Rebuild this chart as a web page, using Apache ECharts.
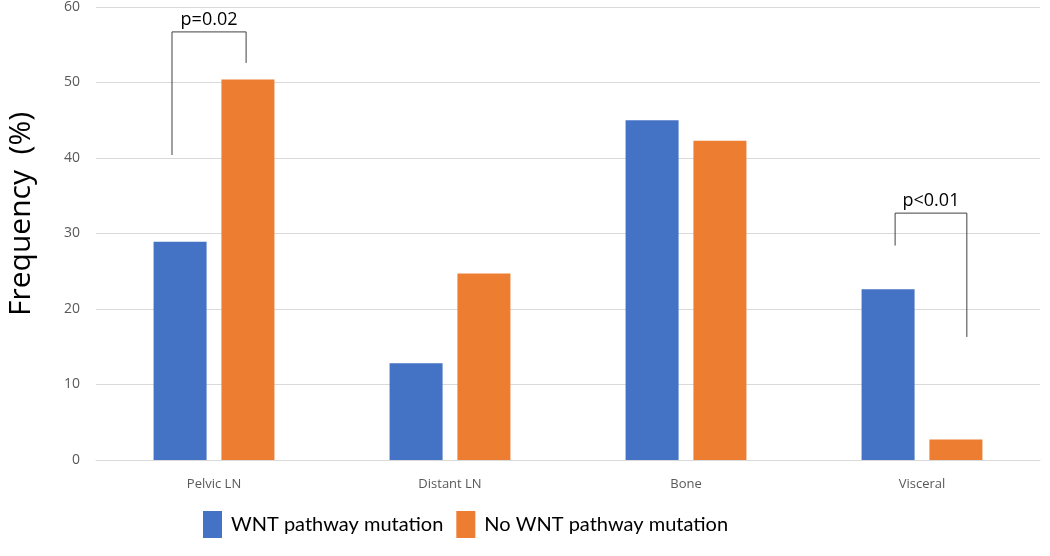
<!DOCTYPE html>
<html>
<head>
<meta charset="utf-8">
<script src="https://cdn.jsdelivr.net/npm/echarts@6/dist/echarts.min.js"></script>
<style>html,body{margin:0;padding:0;background:#fff}#c{width:1050px;height:556px}</style>
</head>
<body>
<div id="c"></div>
<script>
const categories = ['Pelvic LN', 'Distant LN', 'Bone', 'Visceral'];
const wntValues = [28.9, 12.8, 45.0, 22.6];
const noWntValues = [50.4, 24.7, 42.3, 2.7];
const yTicks = [0, 10, 20, 30, 40, 50, 60];
const seriesNames = ['WNT pathway mutation', 'No WNT pathway mutation'];
// significance brackets: [categoryIndex, topValue, leftBottomValue, rightBottomValue, label]
const brackets = [
  [0, 56.7, 40.4, 52.6, 'p=0.02'],
  [3, 32.7, 28.4, 16.3, 'p<0.01']
];
const bracketOffsets = [[-0.178, 0.136], [-0.114, 0.19]];

const chart = echarts.init(document.getElementById('c'), null, {renderer: 'canvas'});
const font = '"Open Sans", sans-serif';
const legendFont = 'Lato, "Open Sans", sans-serif';
chart.setOption({
  animation: false,
  color: ['#4472C4', '#ED7D31'],
  grid: {left: 96, right: 10, top: 7, bottom: 96, containLabel: false},
  legend: {
    data: seriesNames,
    left: 203, top: 511, padding: 0,
    itemWidth: 19, itemHeight: 27, itemGap: 13,
    icon: 'rect',
    textStyle: {fontFamily: legendFont, fontSize: 20, color: '#000', padding: [0, 0, 0, 4]}
  },
  xAxis: {
    type: 'category',
    data: categories,
    axisLine: {show: true, lineStyle: {color: '#d9d9d9'}},
    axisTick: {show: false},
    axisLabel: {fontFamily: font, fontSize: 13, color: '#595959', margin: 18}
  },
  yAxis: {
    type: 'value',
    min: yTicks[0], max: yTicks[yTicks.length - 1], interval: 10,
    axisLine: {show: false},
    axisTick: {show: false},
    splitLine: {lineStyle: {color: '#d9d9d9', width: 1}},
    axisLabel: {fontFamily: font, fontSize: 14, color: '#595959', margin: 16}
  },
  graphic: [{
    type: 'text',
    x: 21, y: 214,
    rotation: Math.PI / 2,
    style: {text: 'Frequency  (%)', fontFamily: font, fontSize: 30, fill: '#000', textAlign: 'center', textVerticalAlign: 'middle'}
  }],
  series: [
    {name: seriesNames[0], type: 'bar', data: wntValues, barWidth: 53, barGap: '28%'},
    {name: seriesNames[1], type: 'bar', data: noWntValues, barWidth: 53, barGap: '28%'},
    {
      type: 'custom',
      silent: true,
      data: brackets.map((b, i) => [b[0], b[1], b[2], b[3], i]),
      renderItem: function (params, api) {
        const idx = api.value(0);
        const bi = api.value(4);
        const band = api.size([1, 0])[0];
        const c = api.coord([idx, api.value(1)]);
        const xl = c[0] + bracketOffsets[bi][0] * band;
        const xr = c[0] + bracketOffsets[bi][1] * band;
        const yt = c[1];
        const yl = api.coord([idx, api.value(2)])[1];
        const yr = api.coord([idx, api.value(3)])[1];
        return {
          type: 'group',
          children: [
            {type: 'polyline', shape: {points: [[xl, yl], [xl, yt], [xr, yt], [xr, yr]]},
             style: {stroke: '#404040', lineWidth: 1, fill: null}},
            {type: 'text', x: (xl + xr) / 2, y: yt - 3,
             style: {text: brackets[bi][4], fontFamily: font, fontSize: 18, fill: '#000', textAlign: 'center', textVerticalAlign: 'bottom'}}
          ]
        };
      }
    }
  ]
});
</script>
</body>
</html>
